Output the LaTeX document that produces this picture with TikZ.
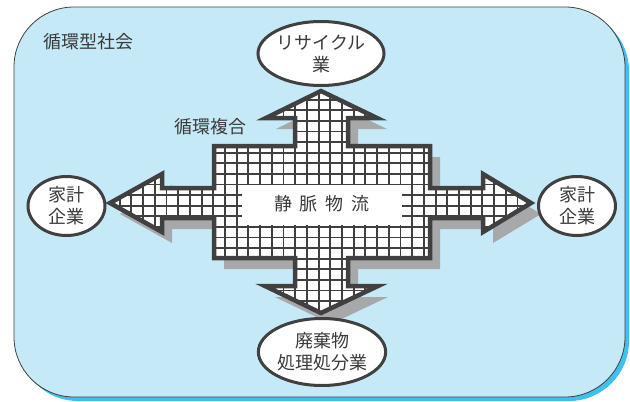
\documentclass[tikz,border=0pt]{standalone}
\usepackage{fontspec}
\newfontfamily\jp{Noto Sans CJK JP}
\usetikzlibrary{shapes.geometric}
\definecolor{bgblue}{HTML}{C6E9F8}
\definecolor{shblue}{HTML}{3EC1F0}
\definecolor{dark}{HTML}{404040}
\definecolor{txt}{HTML}{3A3A3A}
\definecolor{shgray}{HTML}{A7A8AA}
\def\crosspath{(321,91) -- (377,118) -- (348,118) -- (348,146) -- (430,146) -- (430,188) -- (483,188) -- (483,174) -- (531,203) -- (483,232) -- (483,218) -- (430,218) -- (430,258) -- (348,258) -- (348,286) -- (378,286) -- (321,313) -- (265,286) -- (295,286) -- (295,258) -- (214,258) -- (214,218) -- (162,218) -- (162,232) -- (110,203) -- (162,174) -- (162,188) -- (214,188) -- (214,146) -- (295,146) -- (295,118) -- (266,118) -- cycle}
\begin{document}
\begin{tikzpicture}[x=1pt,y=-1pt,
  lbl/.style={font=\jp\fontsize{18}{22}\selectfont, text=txt, inner sep=0pt, align=center},
  ell/.style={ellipse, draw=dark, line width=3pt, fill=white, inner sep=0pt, lbl},
  gridline/.style={dark, line width=1.9pt}]
\useasboundingbox (0,0) rectangle (630,402);
% background
\fill[shblue, rounded corners=60pt] (18,11) rectangle (629,401);
\filldraw[fill=bgblue, draw=dark, line width=0.8pt, rounded corners=60pt] (14,7) rectangle (625,397);
% cross-shaped arrows
\fill[shgray, shift={(10,11)}] \crosspath;
\fill[white] \crosspath;
\begin{scope}
  \clip \crosspath;
  \foreach \i in {-11,...,27} \draw[gridline] (225+11.7*\i,80) -- (225+11.7*\i,330);
  \foreach \j in {-7,...,16} \draw[gridline] (100,152.7+10.6*\j) -- (545,152.7+10.6*\j);
\end{scope}
\fill[white] (242,185) rectangle (402,225);
\draw[dark, line width=4.5pt, line join=miter] \crosspath;
% texts
\node[lbl] (flow) at (322,204) {静\hspace{8pt}脈\hspace{8pt}物\hspace{8pt}流};
\node[lbl, anchor=west] (society) at (43,42) {循環型社会};
\node[lbl] (complex) at (210.5,127) {循環複合};
% ellipses
\node[ell, minimum width=125pt, minimum height=64pt] (recycle) at (321,53.5) {リサイクル\\業};
\node[ell, minimum width=77pt, minimum height=59pt] (left) at (66.5,206) {家計\\企業};
\node[ell, minimum width=77pt, minimum height=59pt] (right) at (577,206) {家計\\企業};
\node[ell, minimum width=127pt, minimum height=67pt] (waste) at (322,352) {廃棄物\\処理処分業};
\end{tikzpicture}
\end{document}
